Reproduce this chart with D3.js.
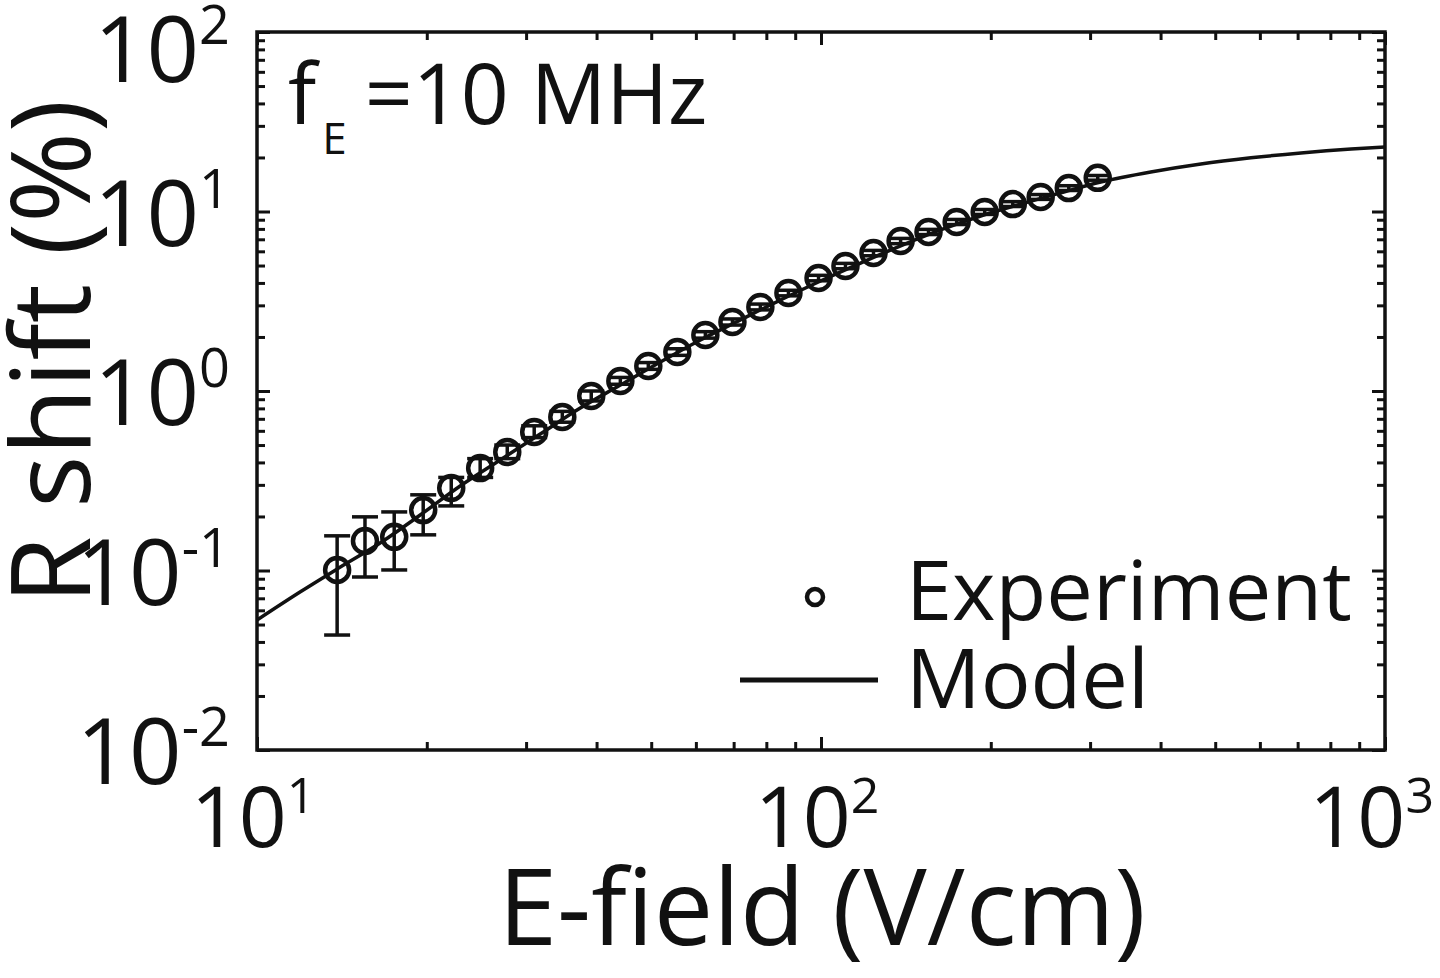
<!DOCTYPE html>
<html>
<head>
<meta charset="utf-8">
<script src="https://cdn.jsdelivr.net/npm/d3@7"></script>
<style>
  html, body { margin: 0; padding: 0; background: #fff; }
  svg { display: block; }
  text { font-family: "Open Sans", "Noto Sans", sans-serif; fill: #111; }
</style>
</head>
<body>
<svg id="chart" width="1440" height="978"></svg>
<script>
// ---- data ----
const eField = [13.87, 15.54, 17.51, 19.71, 22.10, 24.87, 27.78, 31.01, 34.78, 39.14,
                44.08, 49.41, 55.63, 62.37, 69.66, 78.07, 87.55, 99.0, 110.5, 123.9,
                138.4, 155.1, 174.0, 195.1, 218.8, 245.2, 275.0, 309.5];
const rShift = [0.1007, 0.146, 0.154, 0.217, 0.288, 0.372, 0.457, 0.591, 0.716, 0.938,
                1.137, 1.378, 1.649, 2.051, 2.423, 2.938, 3.515, 4.26, 4.97, 5.87,
                6.85, 7.69, 8.74, 9.94, 11.0, 12.05, 13.5, 15.4];
const errLow  = [0.0437, 0.092, 0.1007, 0.158, 0.229, 0.33, 0.42, 0.55, 0.67, 0.88,
                 1.09, 1.32, 1.58, 1.97, 2.33, 2.83, 3.39, 4.11, 4.80, 5.67,
                 6.62, 7.44, 8.46, 9.63, 10.66, 11.68, 13.09, 14.94];
const errHigh = [0.156, 0.199, 0.212, 0.264, 0.33, 0.42, 0.50, 0.64, 0.77, 1.00,
                 1.19, 1.44, 1.72, 2.14, 2.52, 3.05, 3.64, 4.41, 5.14, 6.07,
                 7.08, 7.95, 9.03, 10.26, 11.35, 12.43, 13.92, 15.87];
const modelE = [10, 11.92, 13.87, 16.53, 19.47, 22.92, 26.99, 31.78, 37.43, 44.08,
                51.91, 61.12, 71.96, 84.76, 99.8, 117.5, 138.4, 162.9, 191.9, 225.9,
                266.1, 313.3, 384.3, 471.6, 578.4, 709.6, 870.6, 1000];
const modelR = [0.0530, 0.0759, 0.1019, 0.1422, 0.2037, 0.2957, 0.413, 0.576, 0.804, 1.080,
                1.451, 1.924, 2.488, 3.214, 4.10, 5.16, 6.43, 7.89, 9.44, 11.0,
                12.7, 14.6, 16.6, 18.4, 19.9, 21.2, 22.3, 22.9];
const xTickExps = [1, 2, 3];
const yTickExps = [-2, -1, 0, 1, 2];
const xLabel = "E-field (V/cm)";
const yLabel = "R shift (%)";
const legendLabels = ["Experiment", "Model"];

// ---- layout ----
const svg = d3.select("#chart");
svg.append("rect").attr("width", 1440).attr("height", 978).attr("fill", "#fff");
const L = 257, R = 1385, T = 32, B = 750;
const x = d3.scaleLog().domain([10, 1000]).range([L, R]);
const y = d3.scaleLog().domain([0.01, 100]).range([B, T]);

const isPow = v => Math.abs(Math.log10(v) - Math.round(Math.log10(v))) < 1e-9;
const allX = x.ticks(), majorX = allX.filter(isPow), minorX = allX.filter(v => !isPow(v));
const allY = y.ticks(), majorY = allY.filter(isPow), minorY = allY.filter(v => !isPow(v));

const minorLen = 8, majorLen = 13;
function drawAxis(axisFn, scale, vals, len, tr) {
  const g = svg.append("g").attr("transform", tr)
    .call(axisFn(scale).tickValues(vals).tickSize(-len).tickFormat(""));
  g.select(".domain").remove();
  g.selectAll(".tick line").attr("stroke", "#111").attr("stroke-width", 3);
}
[[minorX, minorLen], [majorX, majorLen]].forEach(([v, l]) => {
  drawAxis(d3.axisBottom, x, v, l, `translate(0,${B})`);
  drawAxis(d3.axisTop, x, v, l, `translate(0,${T})`);
});
[[minorY, minorLen], [majorY, majorLen]].forEach(([v, l]) => {
  drawAxis(d3.axisLeft, y, v, l, `translate(${L},0)`);
  drawAxis(d3.axisRight, y, v, l, `translate(${R},0)`);
});

// ---- model line ----
svg.append("clipPath").attr("id", "clip")
  .append("rect").attr("x", L).attr("y", T).attr("width", R - L).attr("height", B - T);
const line = d3.line().x(d => x(d[0])).y(d => y(d[1])).curve(d3.curveMonotoneX);
svg.append("path")
  .datum(modelE.map((e, i) => [e, modelR[i]]))
  .attr("d", line).attr("fill", "none").attr("stroke", "#111").attr("stroke-width", 3.5)
  .attr("clip-path", "url(#clip)");

// ---- error bars ----
const capW = 13;
const eb = svg.append("g").attr("stroke", "#111").attr("stroke-width", 3.5);
eField.forEach((e, i) => {
  const cx = x(e);
  eb.append("line").attr("x1", cx).attr("x2", cx).attr("y1", y(errLow[i])).attr("y2", y(errHigh[i]));
  eb.append("line").attr("x1", cx - capW).attr("x2", cx + capW).attr("y1", y(errLow[i])).attr("y2", y(errLow[i]));
  eb.append("line").attr("x1", cx - capW).attr("x2", cx + capW).attr("y1", y(errHigh[i])).attr("y2", y(errHigh[i]));
});

// ---- markers ----
svg.append("g").selectAll("circle").data(eField).join("circle")
  .attr("cx", d => x(d)).attr("cy", (d, i) => y(rShift[i]))
  .attr("r", 12).attr("fill", "none").attr("stroke", "#111").attr("stroke-width", 4.5);

// ---- box ----
svg.append("rect").attr("x", L).attr("y", T).attr("width", R - L).attr("height", B - T)
  .attr("fill", "none").attr("stroke", "#111").attr("stroke-width", 3.5);

// ---- tick labels ----
xTickExps.forEach(p => {
  const t = svg.append("text").attr("x", x(Math.pow(10, p)) - 4).attr("y", 847)
    .attr("text-anchor", "middle").style("font-size", "84px");
  t.append("tspan").text("10");
  t.append("tspan").attr("dy", -34).style("font-size", "50px").text(String(p));
  const bb = t.node().getBBox();
  if (bb.x + bb.width > 1434) t.attr("x", +t.attr("x") - (bb.x + bb.width - 1434));
});
yTickExps.forEach(p => {
  const ty = Math.max(y(Math.pow(10, p)) + 34, 82);
  const t = svg.append("text").attr("x", 230).attr("y", ty)
    .attr("text-anchor", "end").style("font-size", "92px");
  t.append("tspan").text("10");
  t.append("tspan").attr("dy", -38).style("font-size", "54px").text(p < 0 ? "-" + (-p) : String(p));
});

// ---- axis titles ----
svg.append("text").attr("x", 822).attr("y", 945).attr("text-anchor", "middle")
  .style("font-size", "106px").text(xLabel);
svg.append("text").attr("transform", "translate(90,352) rotate(-90)").attr("text-anchor", "middle")
  .style("font-size", "110px").text(yLabel);

// ---- annotation ----
const ann = svg.append("text").attr("x", 288).attr("y", 124).style("font-size", "84px");
ann.append("tspan").text("f");
ann.append("tspan").attr("dx", 6).attr("dy", 30).style("font-size", "44px").text("E");
ann.append("tspan").attr("dx", 18).attr("dy", -30).text("=10 MHz");

// ---- legend ----
svg.append("circle").attr("cx", 815).attr("cy", 597).attr("r", 8)
  .attr("fill", "none").attr("stroke", "#111").attr("stroke-width", 4.5);
svg.append("text").attr("x", 906).attr("y", 620).style("font-size", "83px").text(legendLabels[0]);
svg.append("line").attr("x1", 740).attr("x2", 878).attr("y1", 680).attr("y2", 680)
  .attr("stroke", "#111").attr("stroke-width", 5);
svg.append("text").attr("x", 906).attr("y", 708).style("font-size", "83px").text(legendLabels[1]);
</script>
</body>
</html>
